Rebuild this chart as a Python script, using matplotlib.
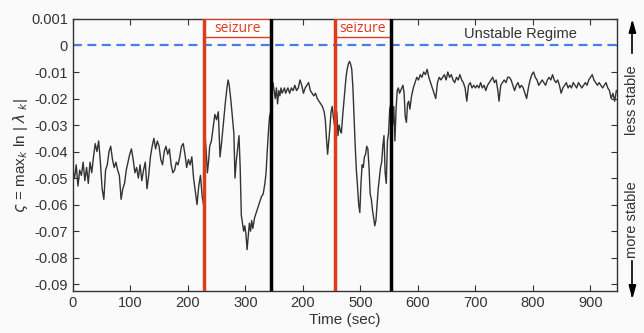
import numpy as np
import matplotlib.pyplot as plt

plt.rcParams['font.family'] = ['Liberation Sans', 'DejaVu Sans']

# time (sec) and stability value (units of 1e-3)
t_sec = [0, 3, 6, 9, 12, 15, 18, 21, 24, 27, 30, 33, 36, 39, 42, 45, 48, 51, 54, 57,
         60, 63, 66, 69, 72, 75, 78, 81, 84, 87, 90, 93, 96, 99, 102, 105, 108, 111, 114, 117,
         120, 123, 126, 129, 132, 135, 138, 141, 144, 147, 150, 153, 156, 159, 162, 165, 168, 171, 174, 177,
         180, 183, 186, 189, 192, 195, 198, 201, 204, 207, 210, 213, 216, 219, 222, 225, 228,
         230, 232, 234, 236, 238, 241, 244, 247, 250, 253, 256, 259, 262, 265, 268, 270, 272, 275, 278,
         280, 282, 284, 286, 289, 291, 293, 295, 297, 299, 301, 303, 305, 307, 309, 311, 313, 316, 319,
         322, 325, 328, 331, 334, 336, 338, 340, 342, 344,
         346, 348, 350, 352, 354, 356, 358, 360, 362, 364, 366, 368, 370, 372, 374, 377, 380, 383, 386, 389,
         392, 395, 398, 401, 404, 407, 410, 413, 416, 419, 422, 425, 428, 431, 434, 437, 439, 441, 443, 445,
         447, 449, 451, 453, 455,
         457, 459, 461, 463, 465, 467, 469, 471, 473, 475, 477, 479, 481, 483, 485, 487, 489, 491, 493, 495,
         497, 499, 501, 503, 505, 507, 509, 511, 513, 515, 517, 519, 521, 523, 525, 527, 529, 531, 533, 535,
         537, 539, 541, 543, 545, 547, 549, 551, 553,
         556, 558, 560, 562, 564, 566, 568, 570, 572, 574, 576, 578, 580, 582, 584, 586, 589, 592, 595, 598,
         601, 604, 607, 610, 613, 616, 619, 622, 625, 628, 631, 634, 637, 640, 643, 646, 649, 652, 655, 658,
         661, 664, 667, 670, 673, 676, 679, 682, 685, 688, 691, 694, 697, 700, 703, 706, 709, 712, 715, 718,
         721, 724, 727, 730, 733, 736, 739, 741, 744, 747, 750, 753, 756, 759, 762, 765, 768, 771, 774, 777,
         780, 783, 786, 789, 792, 795, 798, 801, 804, 807, 810, 813, 816, 819, 822, 825, 828, 831, 834, 837,
         840, 843, 846, 849, 852, 855, 858, 861, 864, 867, 870, 873, 876, 879, 882, 885, 888, 891, 894, 897,
         900, 903, 906, 909, 912, 915, 918, 921, 924, 927, 930, 933, 936, 939, 942, 945]
sigma_milli = [-47, -50, -45, -53, -47, -49, -44, -51, -46, -52, -44, -48, -42, -37, -40, -36, -44, -54, -58, -47,
               -45, -40, -38, -43, -46, -44, -47, -49, -58, -54, -52, -47, -44, -41, -39, -43, -48, -46, -50, -45,
               -51, -47, -44, -54, -49, -42, -38, -35, -39, -36, -38, -43, -45, -40, -38, -41, -39, -45, -48, -47,
               -44, -45, -42, -38, -37, -41, -46, -43, -45, -42, -50, -55, -60, -53, -49, -57, -61,
               -34, -40, -48, -44, -38, -36, -31, -26, -28, -25, -42, -36, -29, -22, -16, -13, -15, -21, -28,
               -33, -50, -44, -40, -34, -46, -64, -67, -70, -68, -71, -77, -72, -67, -70, -66, -69, -65, -63,
               -61, -59, -57, -56, -52, -48, -40, -33, -27, -25,
               -15, -14, -17, -20, -16, -22, -17, -19, -16, -18, -17, -16, -18, -17, -16, -18, -16, -17, -15, -17,
               -16, -13, -15, -18, -16, -15, -14, -17, -18, -19, -18, -20, -21, -22, -23, -25, -28, -35, -41, -36,
               -31, -25, -23, -27, -30,
               -34, -25, -34, -30, -32, -33, -27, -22, -17, -12, -9, -7, -6, -7, -9, -16, -27, -38, -47, -53,
               -60, -63, -52, -45, -46, -42, -41, -38, -39, -46, -56, -58, -62, -65, -68, -66, -60, -54, -50, -46,
               -44, -38, -34, -48, -52, -36, -33, -24, -22,
               -30, -23, -36, -24, -17, -16, -18, -17, -16, -15, -18, -27, -29, -22, -21, -24, -19, -16, -14, -12,
               -13, -11, -12, -10, -11, -9, -12, -14, -16, -18, -20, -14, -12, -13, -12, -11, -13, -10, -12, -11,
               -13, -14, -12, -13, -11, -13, -14, -16, -21, -15, -14, -16, -15, -16, -15, -16, -14, -16, -15, -17,
               -15, -14, -13, -12, -14, -13, -17, -21, -15, -14, -13, -14, -12, -12, -13, -15, -17, -15, -14, -16,
               -15, -16, -18, -20, -16, -13, -11, -10, -12, -13, -15, -14, -13, -14, -15, -13, -12, -13, -11, -13,
               -14, -13, -15, -18, -16, -15, -14, -16, -15, -16, -14, -15, -16, -14, -15, -16, -15, -14, -15, -13,
               -12, -11, -13, -14, -15, -14, -15, -16, -15, -14, -16, -17, -20, -18, -21, -17]

seizure_on = [228, 455]
seizure_off = [345, 553]
xtick_vals = [0, 100, 200, 300, 400, 500, 600, 700, 800, 900]
xtick_text = ['0', '100', '200', '300', '200', '500', '600', '700', '800', '900']
ytick_vals = [-0.09, -0.08, -0.07, -0.06, -0.05, -0.04, -0.03, -0.02, -0.01, 0, 0.01]
ytick_text = ['-0.09', '-0.08', '-0.07', '-0.06', '-0.05', '-0.04', '-0.03', '-0.02', '-0.01', '0', '0.001']

sigma = np.array(sigma_milli) / 1000.0

fig = plt.figure(figsize=(6.44, 3.33), dpi=100, facecolor='#fafafa')
ax = fig.add_axes([0.113, 0.126, 0.845, 0.817], facecolor='#fafafa')

ax.plot(t_sec, sigma, color='#333333', lw=1.0, zorder=3)
ax.axhline(0, color='#4a7cf0', lw=1.6, ls=(0, (4, 2.5)), zorder=2)

for on, off in zip(seizure_on, seizure_off):
    ax.axvline(on, color='#e03a1c', lw=2.5, zorder=5)
    ax.axvline(off, color='black', lw=2.5, zorder=5)
    ax.add_patch(plt.Rectangle((on, 0.0031), off - on, 0.0069, facecolor='white',
                               edgecolor='#e03a1c', lw=1.0, zorder=4))
    ax.text((on + off) / 2, 0.0065, 'seizure', color='#e03a1c', fontsize=10,
            ha='center', va='center', family=['Open Sans', 'DejaVu Sans'], zorder=6)

ax.text(778, 0.0045, 'Unstable Regime', color='#333333', fontsize=10.5,
        ha='center', va='center')

ax.set_xlim(0, 946)
ax.set_ylim(-0.0926, 0.01)
ax.set_xticks(xtick_vals)
ax.set_xticklabels(xtick_text)
ax.set_yticks(ytick_vals)
ax.set_yticklabels(ytick_text)
ax.tick_params(direction='in', top=True, right=True, length=4, labelsize=10.5,
               colors='#333333', labelcolor='#333333')
for s in ax.spines.values():
    s.set_color('#333333')
    s.set_linewidth(1.0)

ax.set_xlabel('Time (sec)', fontsize=11, color='#333333', labelpad=2)
ax.set_ylabel(r'$\varsigma$ = max$_k$ ln | $\lambda$ $_k$|', fontsize=11,
              color='#333333', labelpad=1)

# stability direction hints on the right
fig.text(0.982, 0.70, 'less stable', rotation=90, ha='center', va='center',
         fontsize=10.5, color='#333333')
fig.text(0.982, 0.34, 'more stable', rotation=90, ha='center', va='center',
         fontsize=10.5, color='#333333')
fig.add_artist(plt.Line2D([0.982, 0.982], [0.84, 0.93], color='black', lw=1.2))
fig.patches.append(plt.Polygon([[0.977, 0.90], [0.987, 0.90], [0.982, 0.935]],
                               closed=True, color='black', transform=fig.transFigure))
fig.add_artist(plt.Line2D([0.982, 0.982], [0.215, 0.11], color='black', lw=1.2))
fig.patches.append(plt.Polygon([[0.977, 0.145], [0.987, 0.145], [0.982, 0.11]],
                               closed=True, color='black', transform=fig.transFigure))

fig.savefig('out.png', dpi=100, facecolor=fig.get_facecolor())
